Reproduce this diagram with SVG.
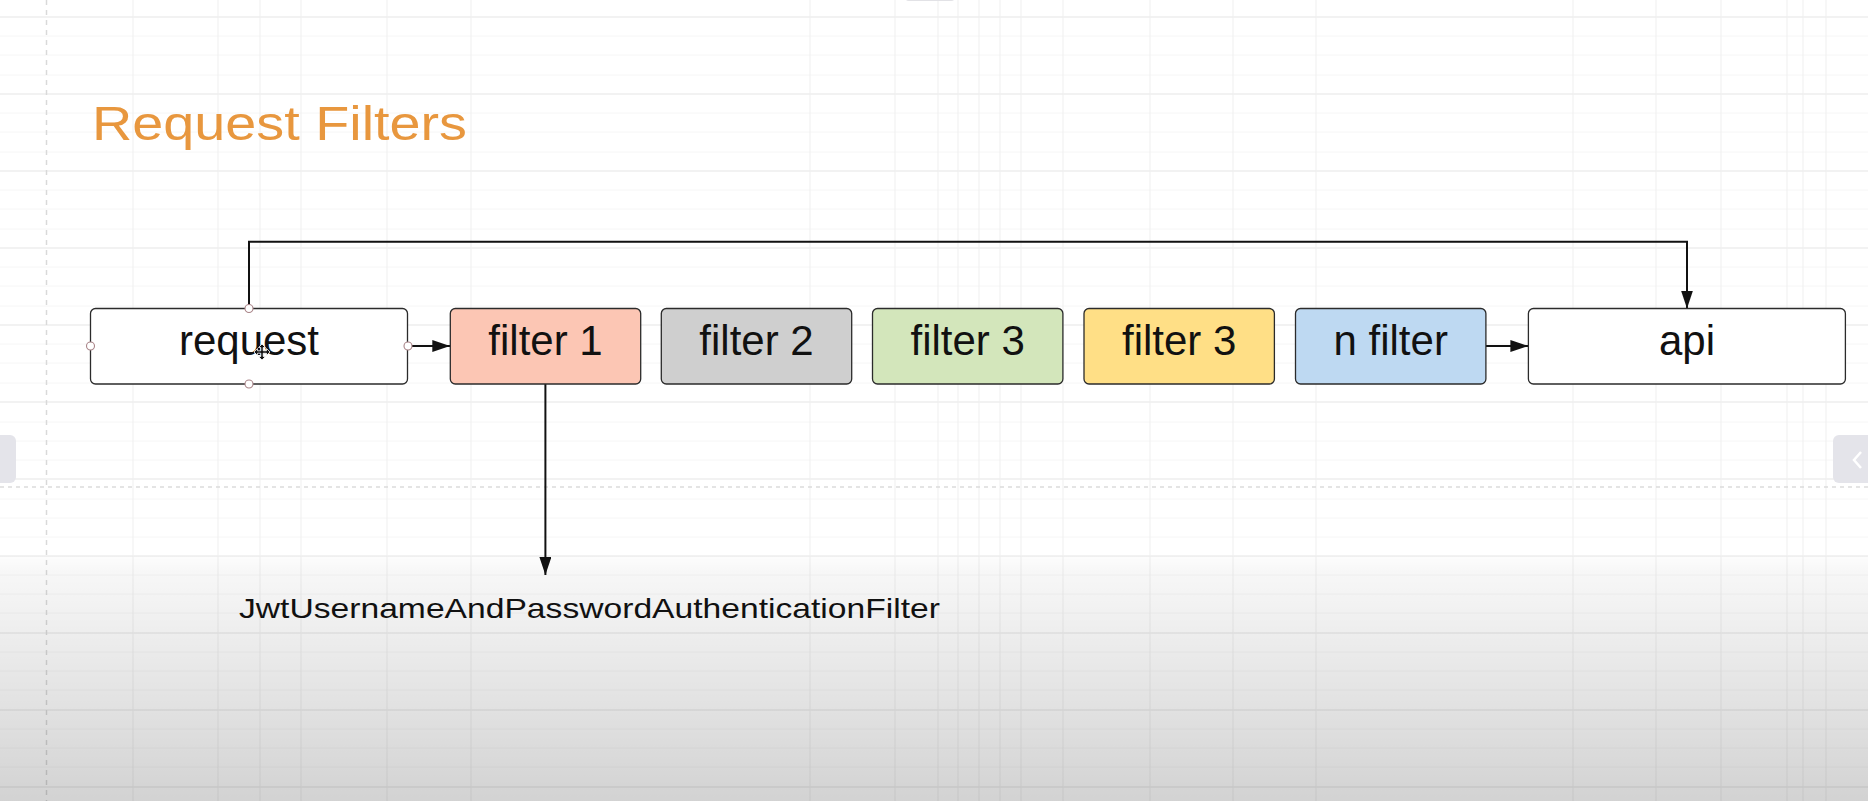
<svg xmlns="http://www.w3.org/2000/svg" width="1868" height="801" viewBox="0 0 1868 801">
  <defs>
    <linearGradient id="bottomFade" x1="0" y1="0" x2="0" y2="1">
      <stop offset="0" stop-color="#000000" stop-opacity="0.01"/>
      <stop offset="0.06" stop-color="#000000" stop-opacity="0.03"/>
      <stop offset="1" stop-color="#000000" stop-opacity="0.175"/>
    </linearGradient>
    <marker id="arrow" viewBox="0 0 18 12" refX="18" refY="6" markerWidth="18" markerHeight="12" markerUnits="userSpaceOnUse" orient="auto">
      <path d="M0,0 L18,6 L0,12 z" fill="#111"/>
    </marker>
    <style>
      .minor { stroke: #f6f6f6; stroke-width: 1; }
      .major { stroke: #e6e6e6; stroke-width: 1.2; }
      .vline { stroke: #efefef; stroke-width: 1; }
      .box { stroke: #2b2b2b; stroke-width: 1.3; }
      .label { font-family: "Liberation Sans", Arial, sans-serif; font-size: 42px; fill: #111; text-anchor: middle; }
      .conn { fill: none; stroke: #111; stroke-width: 2; }
      .handle { fill: #ffffff; stroke: #a98488; stroke-width: 1.1; }
    </style>
  </defs>

  <!-- background -->
  <rect x="0" y="0" width="1868" height="801" fill="#ffffff"/>

  <g id="grid">
    <g class="minor">
      <line x1="0" y1="36" x2="1868" y2="36"/><line x1="0" y1="55" x2="1868" y2="55"/><line x1="0" y1="75" x2="1868" y2="75"/>
      <line x1="0" y1="113" x2="1868" y2="113"/><line x1="0" y1="132" x2="1868" y2="132"/><line x1="0" y1="152" x2="1868" y2="152"/>
      <line x1="0" y1="190" x2="1868" y2="190"/><line x1="0" y1="209" x2="1868" y2="209"/><line x1="0" y1="229" x2="1868" y2="229"/>
      <line x1="0" y1="267" x2="1868" y2="267"/><line x1="0" y1="286" x2="1868" y2="286"/><line x1="0" y1="306" x2="1868" y2="306"/>
      <line x1="0" y1="344" x2="1868" y2="344"/><line x1="0" y1="363" x2="1868" y2="363"/><line x1="0" y1="383" x2="1868" y2="383"/>
      <line x1="0" y1="422" x2="1868" y2="422"/><line x1="0" y1="441" x2="1868" y2="441"/><line x1="0" y1="460" x2="1868" y2="460"/>
      <line x1="0" y1="499" x2="1868" y2="499"/><line x1="0" y1="518" x2="1868" y2="518"/><line x1="0" y1="537" x2="1868" y2="537"/>
      <line x1="0" y1="575" x2="1868" y2="575"/><line x1="0" y1="594" x2="1868" y2="594"/><line x1="0" y1="613" x2="1868" y2="613"/>
      <line x1="0" y1="652" x2="1868" y2="652"/><line x1="0" y1="671" x2="1868" y2="671"/><line x1="0" y1="690" x2="1868" y2="690"/>
      <line x1="0" y1="729" x2="1868" y2="729"/><line x1="0" y1="748" x2="1868" y2="748"/><line x1="0" y1="767" x2="1868" y2="767"/>
    </g>
    <g class="major">
      <line x1="0" y1="17" x2="1868" y2="17"/><line x1="0" y1="94" x2="1868" y2="94"/><line x1="0" y1="171" x2="1868" y2="171"/>
      <line x1="0" y1="248" x2="1868" y2="248"/><line x1="0" y1="325" x2="1868" y2="325"/><line x1="0" y1="402" x2="1868" y2="402"/>
      <line x1="0" y1="479" x2="1868" y2="479"/><line x1="0" y1="556" x2="1868" y2="556"/><line x1="0" y1="633" x2="1868" y2="633"/>
      <line x1="0" y1="710" x2="1868" y2="710"/><line x1="0" y1="787" x2="1868" y2="787"/>
    </g>
    <g class="vline">
      <line x1="133" y1="0" x2="133" y2="801"/><line x1="218" y1="0" x2="218" y2="801"/><line x1="260" y1="0" x2="260" y2="801"/>
      <line x1="301" y1="0" x2="301" y2="801"/><line x1="387" y1="0" x2="387" y2="801"/><line x1="471" y1="0" x2="471" y2="801"/>
      <line x1="810" y1="0" x2="810" y2="801"/><line x1="895" y1="0" x2="895" y2="801"/><line x1="938" y1="0" x2="938" y2="801"/>
      <line x1="958" y1="0" x2="958" y2="801"/><line x1="979" y1="0" x2="979" y2="801"/><line x1="1000" y1="0" x2="1000" y2="801"/>
      <line x1="1021" y1="0" x2="1021" y2="801"/><line x1="1063" y1="0" x2="1063" y2="801"/><line x1="1150" y1="0" x2="1150" y2="801"/>
      <line x1="1233" y1="0" x2="1233" y2="801"/><line x1="1316" y1="0" x2="1316" y2="801"/><line x1="1573" y1="0" x2="1573" y2="801"/>
      <line x1="1656" y1="0" x2="1656" y2="801"/><line x1="1721" y1="0" x2="1721" y2="801"/><line x1="1787" y1="0" x2="1787" y2="801"/>
      <line x1="1803" y1="0" x2="1803" y2="801"/><line x1="1826" y1="0" x2="1826" y2="801"/>
    </g>
    <line x1="46.5" y1="0" x2="46.5" y2="801" stroke="#d9d9d9" stroke-width="1.5" stroke-dasharray="5 5"/>
    <line x1="0" y1="487" x2="1868" y2="487" stroke="#dcdcdc" stroke-width="1.3" stroke-dasharray="4 4"/>
  </g>

  <!-- bottom shading -->
  <rect x="0" y="556" width="1868" height="245" fill="url(#bottomFade)"/>

  <!-- UI elements -->
  <rect x="905" y="-10" width="50" height="11" rx="4" fill="#e2e2e6"/>
  <rect x="-10" y="435" width="26" height="48" rx="6" fill="#e4e4ea"/>
  <rect x="1833" y="435" width="45" height="48" rx="6" fill="#e4e4ea"/>
  <path d="M1861,452 L1854,460 L1861,468" fill="none" stroke="#ffffff" stroke-width="2.5"/>

  <!-- title -->
  <text id="title" x="92" y="140" font-family="'Liberation Sans', Arial, sans-serif" font-size="49" fill="#e8973e" textLength="375" lengthAdjust="spacingAndGlyphs">Request Filters</text>

  <!-- connectors -->
  <g id="connectors">
    <path class="conn" d="M249,308.5 L249,241.8 L1687,241.8 L1687,308.5" marker-end="url(#arrow)"/>
    <path class="conn" d="M408,346 L450.3,346" marker-end="url(#arrow)"/>
    <path class="conn" d="M1486,346 L1528.4,346" marker-end="url(#arrow)"/>
    <path class="conn" d="M545.4,384 L545.4,575" stroke-width="1.6" marker-end="url(#arrow)"/>
  </g>

  <!-- nodes -->
  <g id="node-request">
    <rect class="box" x="90.5" y="308.5" width="317" height="75.5" rx="5" fill="#ffffff"/>
    <text class="label" x="249" y="355">request</text>
  </g>
  <g id="node-filter1">
    <rect class="box" x="450.3" y="308.5" width="190.4" height="75.5" rx="5" fill="#fcc6b4"/>
    <text class="label" x="545.5" y="355">filter 1</text>
  </g>
  <g id="node-filter2">
    <rect class="box" x="661.3" y="308.5" width="190.4" height="75.5" rx="5" fill="#cfcfcf"/>
    <text class="label" x="756.5" y="355">filter 2</text>
  </g>
  <g id="node-filter3a">
    <rect class="box" x="872.5" y="308.5" width="190.4" height="75.5" rx="5" fill="#d3e6bb"/>
    <text class="label" x="967.7" y="355">filter 3</text>
  </g>
  <g id="node-filter3b">
    <rect class="box" x="1084" y="308.5" width="190.4" height="75.5" rx="5" fill="#ffdf86"/>
    <text class="label" x="1179.2" y="355">filter 3</text>
  </g>
  <g id="node-nfilter">
    <rect class="box" x="1295.5" y="308.5" width="190.4" height="75.5" rx="5" fill="#bed9f2"/>
    <text class="label" x="1390.7" y="355">n filter</text>
  </g>
  <g id="node-api">
    <rect class="box" x="1528.4" y="308.5" width="317" height="75.5" rx="5" fill="#ffffff"/>
    <text class="label" x="1687" y="355">api</text>
  </g>
  <g id="node-jwt">
    <text x="239" y="617.5" font-family="'Liberation Sans', Arial, sans-serif" font-size="28.5" fill="#111" textLength="701" lengthAdjust="spacingAndGlyphs">JwtUsernameAndPasswordAuthenticationFilter</text>
  </g>

  <!-- selection handles and cursor -->
  <g id="selection">
    <circle class="handle" cx="249" cy="308.5" r="4"/>
    <circle class="handle" cx="249" cy="384" r="4"/>
    <circle class="handle" cx="90.5" cy="346" r="4"/>
    <circle class="handle" cx="408" cy="346" r="4"/>
    <path d="M262,344 L258.5,347.5 L260.8,347.5 L260.8,350.8 L257.5,350.8 L257.5,348.5 L254,352 L257.5,355.5 L257.5,353.2 L260.8,353.2 L260.8,356.5 L258.5,356.5 L262,360 L265.5,356.5 L263.2,356.5 L263.2,353.2 L266.5,353.2 L266.5,355.5 L270,352 L266.5,348.5 L266.5,350.8 L263.2,350.8 L263.2,347.5 L265.5,347.5 z" fill="#111" stroke="#ffffff" stroke-width="0.8"/>
  </g>
</svg>
